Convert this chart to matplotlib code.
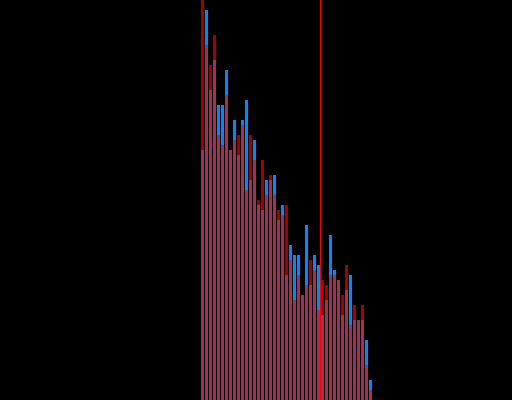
import matplotlib
matplotlib.use('Agg')
import matplotlib.pyplot as plt
import numpy as np

# bin counts (43 bins)
blue_counts = [250, 390, 310, 340, 295, 295, 330, 250, 280, 245, 280, 300, 220, 260,
               195, 190, 220, 220, 225, 180, 195, 125, 155, 145, 145, 105, 175, 115,
               145, 135, 85, 100, 165, 130, 120, 85, 110, 125, 80, 80, 80, 60, 20]
red_counts = [410, 355, 335, 365, 265, 255, 305, 250, 260, 265, 275, 210, 265, 240,
              200, 240, 205, 225, 205, 190, 185, 195, 140, 100, 125, 105, 115, 140,
              130, 90, 120, 115, 125, 125, 120, 105, 135, 75, 95, 80, 95, 35, 10]
marker_x = 29.75

bins = np.arange(len(blue_counts))

fig = plt.figure(figsize=(5.12, 4.0), dpi=100, facecolor='black')
ax = fig.add_axes([0, 0, 1, 1])
ax.set_facecolor('black')

ax.bar(bins, blue_counts, width=0.75, align='edge', color='#0088ff', linewidth=0)
ax.bar(bins, red_counts, width=0.75, align='edge', color='#ff0000', alpha=0.65, linewidth=0)
ax.axvline(marker_x, color='#ff0000', linewidth=0.72, snap=True)

ax.set_xlim(-50.25, 77.75)
ax.set_ylim(0, 400)
ax.axis('off')

fig.savefig('out.png', dpi=100, facecolor='black')
